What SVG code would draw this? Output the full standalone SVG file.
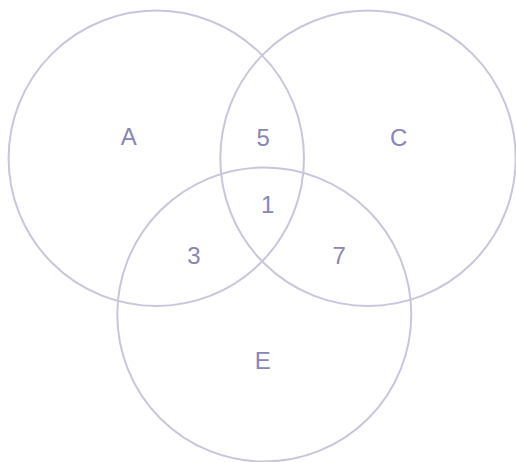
<svg xmlns="http://www.w3.org/2000/svg" width="516" height="462" viewBox="0 0 516 462">
<style>
.set{fill:none;stroke:#c9c6dc;stroke-width:2}
.lbl{font-family:"Liberation Sans",Arial,sans-serif;font-size:24px;fill:#8b85b5;text-anchor:middle}
</style>
<rect width="516" height="462" fill="#ffffff"/>
<g id="setA"><circle class="set" cx="156.3" cy="158.3" r="147.7"/><text class="lbl" x="128.7" y="145">A</text></g>
<g id="setC"><circle class="set" cx="368" cy="158.3" r="147.7"/><text class="lbl" x="398.7" y="146">C</text></g>
<g id="setE"><circle class="set" cx="264.3" cy="314.5" r="147"/><text class="lbl" x="262.7" y="369">E</text></g>
<g id="AC"><text class="lbl" x="263.3" y="146">5</text></g>
<g id="ACE"><text class="lbl" x="267.7" y="213">1</text></g>
<g id="AE"><text class="lbl" x="194" y="264">3</text></g>
<g id="CE"><text class="lbl" x="339.3" y="264">7</text></g>
<g id="connectors"></g>
</svg>
